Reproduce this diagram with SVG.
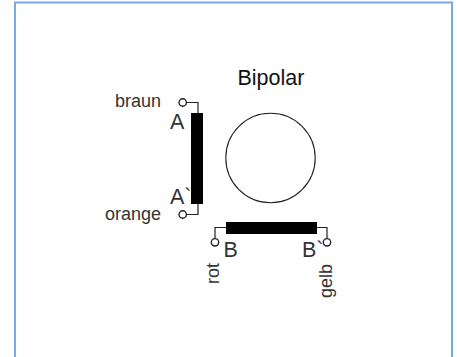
<svg xmlns="http://www.w3.org/2000/svg" width="457" height="357" viewBox="0 0 457 357">
<style>
text{font-family:"Liberation Sans",Arial,sans-serif;fill:#333}
.l{font-size:18px}
.m{font-size:21.500px}
.w{fill:none;stroke:#222;stroke-width:1.200}
.t{fill:#fff;stroke:#222;stroke-width:1.400}
</style>
<rect width="457" height="357" fill="#fff"/>
<path id="frame" d="M15 357V2.500H452V357" fill="none" stroke="#7aa9dc" stroke-width="2"/>
<g id="connectors">
<path class="w" d="M187 102.500H198V113"/>
<path class="w" d="M187 214.500H198V204"/>
<path class="w" d="M215 238V227.500H226"/>
<path class="w" d="M327 238V227.500H317"/>
</g>
<g id="coil-a"><rect x="191" y="113" width="12" height="91" fill="#000"/>
<circle class="t" cx="182.700" cy="102.500" r="3.700"/><circle class="t" cx="182.700" cy="214.500" r="3.700"/>
<text class="m" x="170" y="129">A</text><text class="m" x="170" y="203.500">A`</text>
<text class="l" x="115" y="107">braun</text><text class="l" x="105" y="220">orange</text></g>
<g id="coil-b"><rect x="226" y="222" width="91" height="12" fill="#000"/>
<circle class="t" cx="215" cy="242.300" r="3.700"/><circle class="t" cx="327" cy="242.300" r="3.700"/>
<text class="m" x="223.500" y="256.500">B</text><text class="m" x="302" y="256.500">B`</text>
<text class="l" transform="translate(219 284) rotate(-90)">rot</text><text class="l" transform="translate(332 298) rotate(-90)">gelb</text></g>
<g id="rotor"><circle cx="270.500" cy="158" r="44.700" fill="#fff" stroke="#222" stroke-width="1.100"/></g>
<g id="title"><text x="237.500" y="85" font-size="21.500" style="fill:#111">Bipolar</text></g>
</svg>
